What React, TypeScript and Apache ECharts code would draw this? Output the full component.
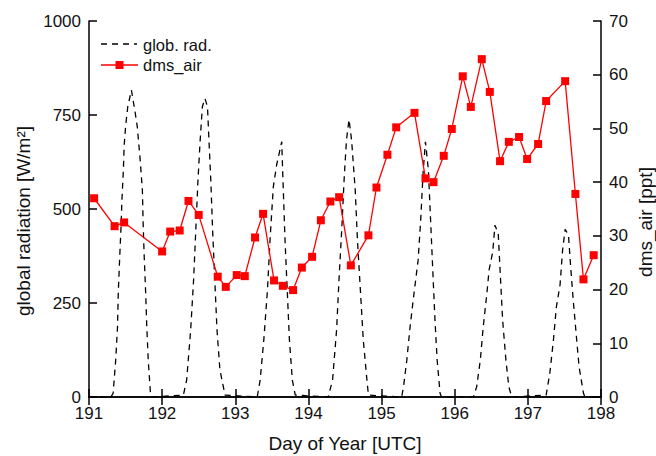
import React, { useEffect, useRef } from "react";
import * as echarts from "echarts";

const dayTicks = [191, 192, 193, 194, 195, 196, 197, 198];

// global radiation [W/m²] (dashed)
const radDays = [
  191.0, 191.3, 191.33, 191.365, 191.39, 191.4, 191.42, 191.44, 191.45, 191.47, 191.48, 191.5, 191.53, 191.58, 191.63, 191.66, 191.7, 191.73, 191.74, 191.755, 191.775, 191.79, 191.81, 191.84, 191.86,
  192.29, 192.335, 192.39, 192.43, 192.46, 192.49, 192.52, 192.55, 192.585, 192.62, 192.64, 192.665, 192.69, 192.72, 192.75, 192.79, 192.86,
  193.3, 193.34, 193.39, 193.44, 193.475, 193.52, 193.565, 193.635, 193.655, 193.68, 193.71, 193.74, 193.78, 193.82,
  194.27, 194.33, 194.385, 194.42, 194.455, 194.49, 194.52, 194.555, 194.59, 194.64, 194.67, 194.71, 194.75, 194.8, 194.82,
  195.275, 195.3, 195.345, 195.39, 195.435, 195.5, 195.535, 195.57, 195.6, 195.64, 195.67, 195.7, 195.73, 195.76, 195.8, 195.82,
  196.255, 196.3, 196.35, 196.39, 196.44, 196.47, 196.52, 196.55, 196.595, 196.62, 196.655, 196.7, 196.74, 196.78,
  197.25, 197.3, 197.35, 197.39, 197.44, 197.475, 197.51, 197.555, 197.585, 197.62, 197.66, 197.7, 197.76, 197.78, 198.0,
];
const radValues = [
  0, 0, 10, 98, 187, 276, 373, 462, 524, 604, 666, 719, 772, 816, 758, 719, 630, 550, 462, 373, 276, 187, 98, 10, 0,
  5, 45, 178, 311, 444, 577, 683, 772, 794, 772, 683, 577, 444, 311, 178, 72, 5,
  0, 45, 152, 285, 418, 559, 617, 679, 559, 418, 285, 152, 45, 5,
  0, 45, 178, 320, 444, 586, 683, 738, 683, 550, 418, 285, 152, 45, 5,
  0, 27, 98, 187, 262, 364, 471, 604, 679, 604, 471, 338, 205, 98, 10, 0,
  0, 27, 98, 187, 276, 338, 386, 457, 435, 338, 205, 98, 27, 0,
  5, 63, 152, 240, 298, 391, 446, 431, 347, 258, 169, 81, 10, 0, 0,
];

// dms_air [ppt]
const dmsDays = [
  191.07, 191.35, 191.48, 192.0, 192.11, 192.24, 192.36, 192.5, 192.76, 192.87, 193.02, 193.13, 193.27, 193.38,
  193.53, 193.65, 193.79, 193.91, 194.05, 194.17, 194.3, 194.42, 194.58, 194.82, 194.93, 195.08, 195.2, 195.45,
  195.6, 195.71, 195.85, 195.96, 196.11, 196.22, 196.37, 196.48, 196.62, 196.74, 196.88, 196.99, 197.14, 197.25,
  197.51, 197.65, 197.76, 197.9,
];
const dmsValues = [
  37.0, 31.8, 32.5, 27.1, 30.8, 31.0, 36.5, 33.9, 22.4, 20.5, 22.7, 22.5, 29.7, 34.1,
  21.7, 20.7, 19.9, 24.1, 26.1, 32.9, 36.4, 37.2, 24.5, 30.1, 39.0, 45.1, 50.2, 52.9,
  40.7, 40.0, 44.9, 49.9, 59.7, 54.0, 62.9, 56.8, 43.9, 47.5, 48.4, 44.3, 47.1, 55.1,
  58.8, 37.8, 21.9, 26.4,
];

const seriesNames = ["glob. rad.", "dms_air"];
const axisTitles = { x: "Day of Year [UTC]", yLeft: "global radiation [W/m²]", yRight: "dms_air [ppt]" };

const FONT = "Liberation Sans, Arial, sans-serif";
const TXT = "#111";
const RED = "#ff0000";

export default function App() {
  const ref = useRef<HTMLDivElement>(null);
  useEffect(() => {
    if (!ref.current) return;
    const chart = echarts.init(ref.current, undefined, { renderer: "svg" });
    const axisLine = { show: true, lineStyle: { color: "#000", width: 1.5 } };
    const tick = { show: true, inside: true, length: 8, lineStyle: { color: "#000", width: 1.5 } };
    const label = { fontFamily: FONT, fontSize: 17, color: TXT, margin: 8, formatter: (v: number) => String(v) };
    const titleStyle = { fontFamily: FONT, fontSize: 19, fill: TXT };
    chart.setOption({
      animation: false,
      backgroundColor: "#fff",
      textStyle: { fontFamily: FONT },
      grid: { left: 89, right: 55, top: 21, bottom: 59, containLabel: false },
      xAxis: [
        {
          type: "value",
          min: dayTicks[0],
          max: dayTicks[dayTicks.length - 1],
          interval: 1,
          axisLine,
          axisTick: tick,
          axisLabel: label,
          splitLine: { show: false },
        },
        {
          type: "value",
          position: "top",
          min: dayTicks[0],
          max: dayTicks[dayTicks.length - 1],
          interval: 1,
          axisLine,
          axisTick: tick,
          axisLabel: { show: false },
          splitLine: { show: false },
        },
      ],
      yAxis: [
        {
          type: "value",
          min: 0,
          max: 1000,
          interval: 250,
          axisLine,
          axisTick: tick,
          axisLabel: label,
          splitLine: { show: false },
        },
        {
          type: "value",
          position: "right",
          min: 0,
          max: 70,
          interval: 10,
          axisLine,
          axisTick: tick,
          axisLabel: label,
          splitLine: { show: false },
        },
      ],
      graphic: [
        {
          type: "text",
          x: 345,
          y: 443,
          style: { ...titleStyle, text: axisTitles.x, align: "center", verticalAlign: "middle" },
        },
        {
          type: "text",
          x: 23,
          y: 221,
          rotation: Math.PI / 2,
          style: { ...titleStyle, text: axisTitles.yLeft, align: "center", verticalAlign: "middle" },
        },
        {
          type: "text",
          x: 645,
          y: 222,
          rotation: Math.PI / 2,
          style: { ...titleStyle, text: axisTitles.yRight, align: "center", verticalAlign: "middle" },
        },
        // legend
        {
          type: "line",
          shape: { x1: 101, y1: 44, x2: 137, y2: 44 },
          style: { stroke: "#000", lineWidth: 1.3, lineDash: [6, 5] },
        },
        {
          type: "text",
          x: 143,
          y: 45,
          style: { text: seriesNames[0], fontFamily: FONT, fontSize: 16.5, fill: TXT, verticalAlign: "middle" },
        },
        {
          type: "line",
          shape: { x1: 101, y1: 65, x2: 138, y2: 65 },
          style: { stroke: RED, lineWidth: 1.3 },
        },
        {
          type: "rect",
          shape: { x: 115.5, y: 61, width: 8, height: 8 },
          style: { fill: RED },
        },
        {
          type: "text",
          x: 143,
          y: 65,
          style: { text: seriesNames[1], fontFamily: FONT, fontSize: 16.5, fill: TXT, verticalAlign: "middle" },
        },
      ],
      series: [
        {
          name: seriesNames[0],
          type: "line",
          xAxisIndex: 0,
          yAxisIndex: 0,
          data: radDays.map((d, i) => [d, radValues[i]]),
          showSymbol: false,
          symbol: "none",
          itemStyle: { color: "#000" },
          lineStyle: { color: "#000", width: 1.3, type: [6, 5] },
          z: 2,
        },
        {
          name: seriesNames[1],
          type: "line",
          xAxisIndex: 0,
          yAxisIndex: 1,
          data: dmsDays.map((d, i) => [d, dmsValues[i]]),
          symbol: "rect",
          symbolSize: 8,
          itemStyle: { color: RED },
          lineStyle: { color: RED, width: 1.3 },
          z: 3,
        },
      ],
    });
    return () => chart.dispose();
  }, []);
  return (
    <div
      ref={ref}
      style={{ position: "fixed", left: 0, top: 0, width: 656, height: 456, background: "#fff" }}
    />
  );
}
